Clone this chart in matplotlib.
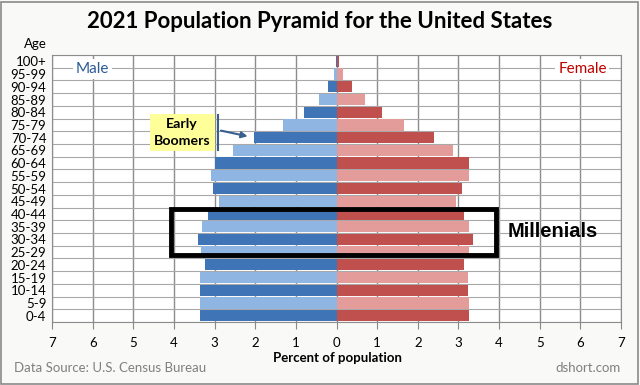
import numpy as np
import matplotlib.pyplot as plt
from matplotlib.patches import Rectangle

ages = ['0-4', '5-9', '10-14', '15-19', '20-24', '25-29', '30-34', '35-39',
        '40-44', '45-49', '50-54', '55-59', '60-64', '65-69', '70-74',
        '75-79', '80-84', '85-89', '90-94', '95-99', '100+']
male = [3.37, 3.37, 3.35, 3.35, 3.23, 3.33, 3.42, 3.30, 3.15, 2.90, 3.03,
        3.08, 2.98, 2.54, 2.02, 1.31, 0.79, 0.44, 0.20, 0.05, 0.01]
female = [3.25, 3.25, 3.23, 3.23, 3.13, 3.25, 3.35, 3.25, 3.13, 2.93, 3.10,
          3.25, 3.25, 2.86, 2.39, 1.65, 1.11, 0.71, 0.39, 0.15, 0.05]
xticks = list(range(-7, 8))
xlabels = [str(abs(v)) for v in xticks]

font = ['Lato', 'DejaVu Sans']
plt.rcParams['font.family'] = font

fig = plt.figure(figsize=(6.4, 3.85), dpi=100)
fig.patch.set_facecolor('#f9f9f7')
fig.patches.append(Rectangle((0.002, 0.003), 0.995, 0.993, transform=fig.transFigure,
                             fill=False, edgecolor='#8a8a8a', lw=1.2))
ax = fig.add_axes([0.0813, 0.1636, 0.889, 0.6935])

y = np.arange(len(ages))
male_cols = ['#3f74b6' if i % 2 == 0 else '#8fb5e3' for i in y]
fem_cols = ['#c0504d' if i % 2 == 0 else '#e49c9b' for i in y]
ax.barh(y, -np.array(male), height=0.88, color=male_cols, zorder=3)
ax.barh(y, female, height=0.88, color=fem_cols, zorder=3)

ax.set_xlim(-7, 7)
ax.set_ylim(-0.5, len(ages) - 0.5)
ax.set_xticks(xticks)
ax.set_xticklabels(xlabels, fontsize=9.5)
ax.set_yticks(y)
ax.set_yticklabels(ages, fontsize=9.5)
ax.set_yticks(np.arange(-0.5, len(ages), 1), minor=True)
ax.tick_params(axis='y', which='both', length=0, pad=4)
ax.tick_params(axis='x', length=5, color='#888888', pad=6)
ax.grid(axis='x', color='#8c8c8c', lw=1, zorder=1)
ax.grid(axis='y', which='minor', color='#a8a8a8', lw=0.8, zorder=1)
ax.grid(axis='y', which='major', visible=False)
for s in ['top', 'right', 'left', 'bottom']:
    ax.spines[s].set_color('#8c8c8c')

ax.text(-6.0, 19.4, 'Male', color='#2c5a96', fontsize=11, ha='center', va='center',
        bbox=dict(facecolor='white', edgecolor='none', pad=2), zorder=4)
ax.text(6.05, 19.4, 'Female', color='#c00000', fontsize=11, ha='center', va='center',
        bbox=dict(facecolor='white', edgecolor='none', pad=2), zorder=4)

# millenials box
ax.add_patch(Rectangle((-4.07, 4.77), 7.99, 3.62, fill=False, edgecolor='black',
                       lw=3.5, zorder=5, clip_on=False))
ax.text(4.2, 6.6, 'Millenials', family='Liberation Sans', fontweight='bold',
        fontsize=14.5, ha='left', va='center', zorder=5)

# early boomers
ax.text(-3.8, 14.4, 'Early\nBoomers', fontsize=10.2, fontweight='bold', ha='center',
        va='center', linespacing=1.5, zorder=5,
        bbox=dict(facecolor='#ffff99', edgecolor='none', boxstyle='square,pad=0.3'))
ax.plot([-2.91, -2.91], [13.05, 15.8], color='#3a5f8f', lw=1.5, zorder=5)
ax.annotate('', xy=(-2.12, 14.06), xytext=(-2.91, 14.6),
            arrowprops=dict(arrowstyle='-|>', color='#3a5f8f', lw=1.5,
                            mutation_scale=9), zorder=5)

fig.text(0.5, 0.943, '2021 Population Pyramid for the United States', fontsize=16,
         fontweight='bold', ha='center', va='center')
fig.text(0.056, 0.886, 'Age', fontsize=9.5, ha='center', va='center')
fig.text(0.527, 0.07, 'Percent of population', fontsize=9.5, fontweight='bold',
         ha='center', va='center')
fig.text(0.022, 0.044, 'Data Source: U.S. Census Bureau', fontsize=9.5, color='#808080',
         ha='left', va='center')
fig.text(0.97, 0.044, 'dshort.com', fontsize=9.5, color='#808080', ha='right', va='center')

fig.savefig('out.png', dpi=100, facecolor=fig.get_facecolor())
